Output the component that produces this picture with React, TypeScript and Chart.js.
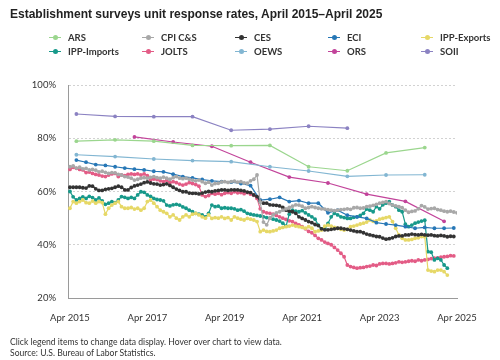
import React, { useEffect, useRef } from 'react';
import { Chart, registerables } from 'chart.js';

Chart.register(...registerables);

// x positions are month indices: 0 = Apr 2015, 120 = Apr 2025
const tickMonths = [0, 24, 48, 72, 96, 120];
const tickLabels = ['Apr 2015', 'Apr 2017', 'Apr 2019', 'Apr 2021', 'Apr 2023', 'Apr 2025'];
const yTicks = [20, 40, 60, 80, 100];

const annualMonths = [2, 14, 26, 38, 50, 62, 74, 86, 98, 110];
const arsValues = [78.9, 79.4, 78.9, 77.3, 77.2, 77.3, 69.3, 67.8, 74.5, 76.5];
const oewsValues = [73.8, 73.1, 72.2, 71.6, 71.2, 69.3, 67.7, 65.7, 66.2, 66.3];
const soiiMonths = [2, 14, 26, 38, 50, 62, 74, 86];
const soiiValues = [89.1, 88.2, 88.1, 88.1, 83.0, 83.4, 84.5, 83.8];
const orsMonths = [20, 32, 44, 56, 68, 80, 92, 104, 116];
const orsValues = [80.5, 78.6, 77.0, 71.0, 65.4, 63.2, 59.0, 56.3, 48.8];

// quarterly, first at month 2
const eciStart = 2;
const eciStep = 3;
const eciValues = [71.8, 71.0, 70.1, 69.8, 69.3, 68.8, 68.4, 68.1, 67.6, 67.4, 66.5, 65.6, 65.1, 64.5, 64.0, 63.7, 63.5, 63.0, 62.2, 56.8,
  57.1, 57.8, 56.2, 56.6, 55.6, 55.6, 52.0, 53.0, 51.1, 50.5, 49.9, 48.3, 47.8, 47.4, 46.8, 46.2, 46.5, 46.2, 46.2, 46.3];

// monthly, first at month 0
const cesValues = [61.6, 61.6, 61.6, 61.6, 61.4, 61.3, 62.1, 62.0, 61.0, 60.4, 60.4, 60.8, 61.0, 61.2, 61.6, 62.0, 61.6, 60.6, 60.6, 61.5,
  62.1, 62.4, 62.8, 63.3, 63.6, 63.2, 62.9, 62.8, 62.4, 62.6, 62.9, 62.3, 61.6, 60.9, 60.4, 59.9, 59.9, 59.4, 59.3, 59.3,
  59.1, 59.4, 59.8, 60.0, 59.9, 60.2, 60.4, 60.6, 60.6, 60.4, 60.6, 60.6, 60.6, 60.4, 60.2, 59.8, 59.6, 58.7, 58.1, 56.2,
  55.6, 55.6, 55.0, 54.9, 54.8, 54.6, 54.0, 53.0, 52.6, 52.4, 51.8, 50.5, 49.9, 49.3, 48.7, 48.3, 47.6, 47.2, 46.0, 45.6,
  45.6, 45.8, 46.0, 46.2, 46.2, 46.0, 45.8, 45.5, 45.2, 44.9, 44.9, 44.5, 44.0, 43.7, 43.4, 43.1, 43.0, 42.5, 42.1, 42.3,
  42.6, 43.1, 43.3, 43.3, 43.7, 43.7, 44.0, 43.8, 43.7, 43.9, 43.7, 43.6, 43.7, 43.4, 43.3, 43.5, 43.3, 43.0, 43.2, 43.1];

const cpiValues = [69.3, 69.6, 68.8, 69.1, 68.5, 68.7, 68.1, 68.3, 68.0, 67.4, 67.6, 67.2, 66.8, 67.1, 67.0, 66.4, 66.2, 65.6, 65.4, 65.0,
  64.3, 64.6, 65.0, 65.2, 65.0, 65.3, 65.6, 65.2, 65.0, 65.4, 65.0, 64.6, 65.2, 65.6, 65.0, 64.8, 65.0, 64.6, 64.3, 64.0,
  64.3, 63.7, 63.1, 63.5, 62.4, 63.0, 63.1, 63.6, 63.7, 63.4, 63.7, 63.9, 63.5, 63.7, 63.2, 63.1, 64.0, 64.6, 66.2, 56.0,
  48.5, 47.5, 50.0, 51.2, 52.0, 52.4, 53.0, 53.5, 54.0, 54.5, 55.0, 54.9, 54.5, 53.7, 54.0, 54.3, 54.0, 53.7, 53.5, 53.4,
  53.2, 53.0, 52.8, 53.0, 53.2, 53.3, 53.5, 53.3, 53.9, 54.0, 53.7, 53.8, 54.3, 54.5, 54.8, 55.2, 55.6, 55.9, 56.2, 55.5,
  54.9, 54.6, 54.3, 53.9, 53.0, 52.2, 52.5, 52.7, 53.5, 54.7, 54.2, 53.4, 53.6, 53.7, 53.2, 53.0, 52.6, 52.4, 52.6, 52.3, 52.0];

const joltsValues = [68.3, 69.1, 68.7, 68.3, 68.1, 67.1, 67.3, 66.8, 66.4, 66.2, 65.8, 65.6, 66.2, 66.6, 66.8, 65.6, 66.2, 66.0, 66.4, 66.6,
  66.4, 66.6, 66.2, 66.6, 66.0, 64.3, 64.7, 64.5, 64.0, 63.7, 64.2, 63.3, 63.7, 63.3, 62.8, 62.4, 62.8, 63.3, 63.0, 62.6,
  62.0, 58.7, 58.1, 58.5, 59.3, 59.0, 59.3, 58.8, 59.3, 59.6, 59.3, 59.9, 59.5, 59.6, 59.2, 59.6, 59.0, 58.6, 57.4, 53.5,
  52.4, 52.0, 51.8, 51.5, 51.0, 50.5, 50.0, 49.5, 49.0, 48.7, 48.0, 47.5, 46.8, 46.0, 45.0, 44.5, 43.5, 42.4, 41.8, 41.0,
  40.5, 40.0, 39.0, 38.0, 36.8, 35.5, 32.4, 31.8, 31.5, 31.2, 31.4, 31.5, 31.8, 32.0, 32.4, 32.2, 32.8, 33.0, 33.0, 32.8,
  33.0, 33.2, 33.6, 33.4, 33.6, 33.8, 34.0, 33.8, 34.3, 34.0, 34.3, 34.5, 34.8, 35.0, 35.1, 35.3, 35.5, 35.6, 35.9, 35.8];

const ippImportsValues = [60.0, 58.0, 56.8, 57.4, 58.0, 57.4, 58.2, 57.7, 56.8, 57.6, 56.5, 55.2, 55.6, 56.2, 55.8, 56.8, 58.1, 57.8, 57.4, 57.8,
  57.4, 58.7, 59.9, 59.7, 58.7, 58.2, 57.4, 57.0, 56.8, 56.5, 54.9, 54.6, 55.0, 55.2, 54.9, 54.2, 53.7, 53.0, 52.4, 51.8,
  51.5, 51.2, 50.5, 51.8, 54.9, 54.3, 54.5, 53.7, 53.9, 53.7, 53.7, 53.5, 53.0, 53.2, 52.6, 51.8, 51.5, 51.2, 51.0, 50.8,
  50.5, 50.2, 50.0, 49.6, 49.3, 48.9, 48.1, 47.0, 51.5, 53.0, 52.6, 52.4, 52.8, 52.0, 51.2, 50.5, 49.6, 47.4, 46.0, 46.2,
  48.0, 50.5, 51.8, 51.2, 50.5, 50.2, 49.9, 49.9, 50.3, 50.5, 51.0, 51.8, 53.4, 53.0, 52.4, 54.3, 53.5, 55.0, 55.6, 56.2,
  54.9, 54.3, 53.0, 52.4, 47.7, 46.8, 47.4, 48.1, 48.5, 48.9, 49.2, 37.4, 37.2, 34.3, 34.9, 34.3, 32.4, 31.2];

const ippExportsValues = [53.7, 56.2, 55.6, 56.2, 56.8, 55.8, 55.6, 56.4, 55.6, 56.2, 55.8, 51.5, 53.7, 54.9, 55.6, 56.2, 54.3, 53.7, 53.7, 54.0,
  53.4, 53.7, 53.0, 53.7, 56.2, 56.8, 55.6, 54.3, 53.0, 52.4, 51.8, 50.5, 51.2, 50.0, 49.3, 50.5, 51.2, 50.5, 51.5, 51.8,
  51.2, 50.5, 50.0, 51.2, 49.9, 50.2, 50.0, 50.5, 49.9, 50.2, 49.3, 50.5, 50.0, 49.6, 49.3, 49.9, 49.6, 49.3, 48.7, 44.9,
  45.5, 45.0, 44.9, 45.2, 45.5, 46.2, 46.5, 46.8, 47.0, 47.4, 47.0, 46.8, 46.5, 46.2, 46.8, 46.2, 44.9, 45.2, 45.5, 47.0,
  47.4, 47.0, 46.5, 46.2, 45.8, 45.5, 45.8, 46.8, 47.0, 47.4, 47.8, 48.1, 48.5, 49.3, 48.8, 49.0, 49.6, 49.9, 50.2, 50.5,
  48.7, 46.2, 43.7, 42.4, 41.8, 41.8, 42.0, 42.4, 42.6, 43.1, 43.0, 30.5, 30.1, 29.9, 30.5, 30.5, 29.9, 28.6];

const seriesNames = ['ARS', 'CPI C&S', 'CES', 'ECI', 'IPP-Exports', 'IPP-Imports', 'JOLTS', 'OEWS', 'ORS', 'SOII'];
const seriesColors = ['#9bd68e', '#a8a8a8', '#333333', '#2677b6', '#e6d867', '#17998a', '#e35c86', '#82b6d2', '#c2439a', '#8b82c2'];

const pts = (months: number[], vals: number[]) => vals.map((y, i) => ({ x: months[i], y }));
const seq = (start: number, step: number, vals: number[]) => vals.map((y, i) => ({ x: start + i * step, y }));

const FONT = 'Lato, "Open Sans", sans-serif';

export default function App() {
  const ref = useRef<HTMLCanvasElement>(null);

  useEffect(() => {
    document.body.style.margin = '0';
    const seriesData = [
      pts(annualMonths, arsValues),
      seq(0, 1, cpiValues),
      seq(0, 1, cesValues),
      seq(eciStart, eciStep, eciValues),
      seq(0, 1, ippExportsValues),
      seq(0, 1, ippImportsValues),
      seq(0, 1, joltsValues),
      pts(annualMonths, oewsValues),
      pts(orsMonths, orsValues),
      pts(soiiMonths, soiiValues),
    ];
    const chart = new Chart(ref.current!, {
      type: 'line',
      data: {
        datasets: seriesNames.map((name, i) => ({
          label: name,
          data: seriesData[i],
          borderColor: seriesColors[i],
          backgroundColor: seriesColors[i],
          pointBackgroundColor: seriesColors[i],
          pointBorderWidth: 0,
          pointRadius: 1.9,
          borderWidth: 1.2,
          tension: 0,
          fill: false,
        })),
      },
      options: {
        responsive: false,
        animation: false,
        layout: { padding: { left: 0, right: 43, top: 85, bottom: 0 } },
        plugins: { legend: { display: false }, title: { display: false }, tooltip: { enabled: true } },
        scales: {
          x: {
            type: 'linear',
            min: -0.6,
            max: 120,
            grid: { display: false },
            border: { display: true, color: '#9a9a9a', width: 1 },
            afterBuildTicks: (s: any) => { s.ticks = tickMonths.map((v) => ({ value: v })); },
            afterFit: (s: any) => { s.height = 62; },
            ticks: {
              autoSkip: false,
              maxRotation: 0,
              padding: 6,
              color: '#333',
              font: { family: FONT, size: 9.5 },
              callback: (v: any) => tickLabels[tickMonths.indexOf(Number(v))] ?? '',
            },
          },
          y: {
            min: 20,
            max: 100,
            afterBuildTicks: (s: any) => { s.ticks = yTicks.map((v) => ({ value: v })); },
            afterFit: (s: any) => { s.width = 68; },
            grid: { color: '#d2d2d2', drawTicks: false, lineWidth: 1 },
            border: { display: true, color: '#9a9a9a', width: 1, dash: [2, 2] },
            ticks: {
              padding: 12,
              color: '#333',
              font: { family: FONT, size: 9.5 },
              callback: (v: any) => v + '%',
            },
          },
        },
      },
    });
    return () => chart.destroy();
  }, []);

  return (
    <div style={{ position: 'relative', width: 500, height: 360, background: '#fff', fontFamily: FONT, color: '#333', overflow: 'hidden' }}>
      <canvas ref={ref} width={500} height={360} style={{ position: 'absolute', left: 0, top: 0 }} />
      <div style={{ position: 'absolute', left: 10, top: 7, font: 'bold 12px "Liberation Sans", Arial, sans-serif', color: '#222', whiteSpace: 'nowrap' }}>
        Establishment surveys unit response rates, April 2015–April 2025
      </div>
      <div style={{ position: 'absolute', left: 49, top: 31, display: 'grid', gridTemplateColumns: 'repeat(5, 93px)', gridAutoRows: '13.5px' }}>
        {seriesNames.map((name, i) => (
          <div key={name} style={{ display: 'flex', alignItems: 'center', height: 13.5, whiteSpace: 'nowrap' }}>
            <span style={{ position: 'relative', display: 'inline-block', width: 12, height: 10, marginRight: 7 }}>
              <span style={{ position: 'absolute', left: 0, right: 0, top: 4.5, height: 1.2, background: seriesColors[i] }} />
              <span style={{ position: 'absolute', left: 3.5, top: 2.6, width: 5, height: 5, borderRadius: '50%', background: seriesColors[i] }} />
            </span>
            <span style={{ fontSize: 9.5, fontWeight: 700, color: '#333' }}>{name}</span>
          </div>
        ))}
      </div>
      <div style={{ position: 'absolute', left: 10, top: 337, fontSize: 8.6, lineHeight: '11px', color: '#333' }}>
        <div>Click legend items to change data display. Hover over chart to view data.</div>
        <div>Source: U.S. Bureau of Labor Statistics.</div>
      </div>
    </div>
  );
}
